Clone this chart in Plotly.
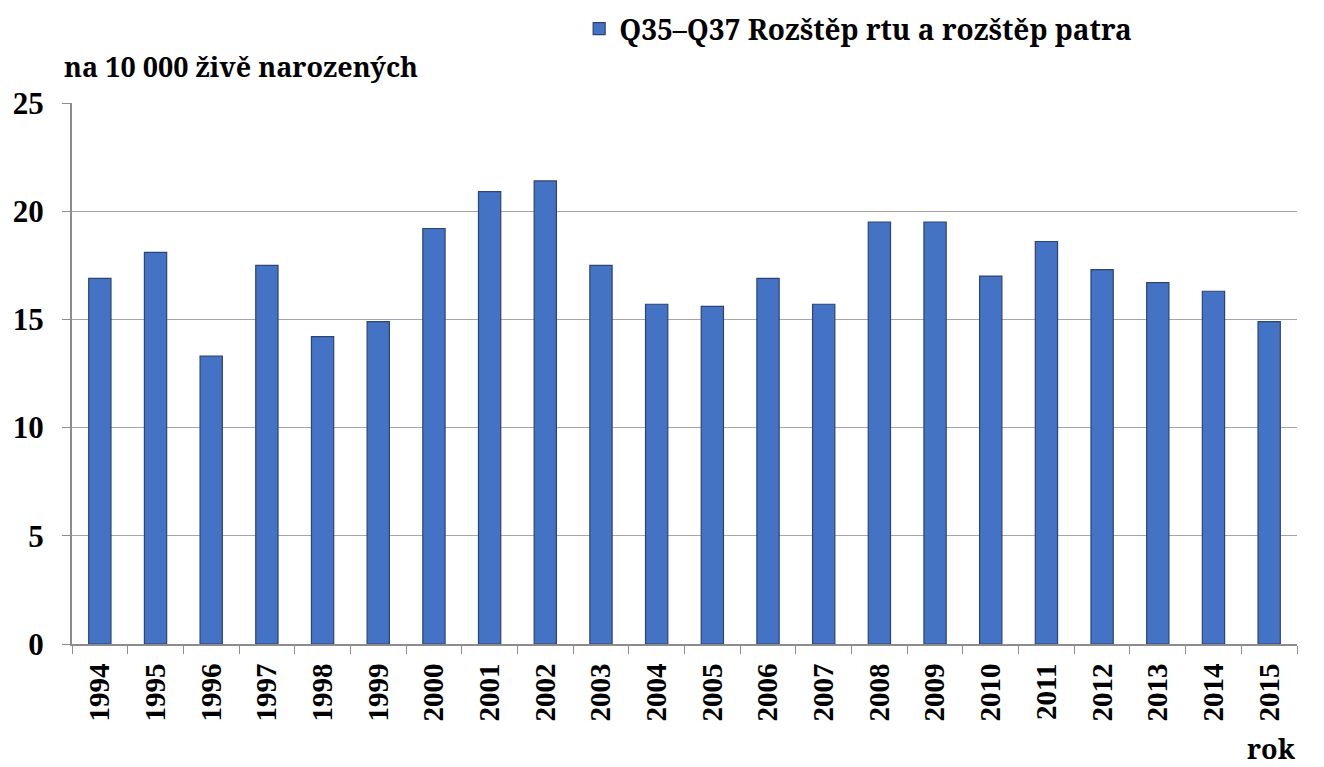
import plotly.graph_objects as go

# Data
roky = [str(r) for r in range(1994, 2016)]
hodnoty = [16.9, 18.1, 13.3, 17.5, 14.2, 14.9, 19.2, 20.9, 21.4, 17.5, 15.7,
           15.6, 16.9, 15.7, 19.5, 19.5, 17.0, 18.6, 17.3, 16.7, 16.3, 14.9]
y_ticks = [0, 5, 10, 15, 20, 25]

# cisla v Liberation Serif, texty s pismeny v Noto Serif
FONT_NUM = "Liberation Serif"
FONT_TXT = "Noto Serif"

fig = go.Figure()
fig.add_trace(
    go.Bar(
        x=roky,
        y=hodnoty,
        name="Q35–Q37 Rozštěp rtu a rozštěp patra",
        marker=dict(color="#4472C4", line=dict(color="#2E4470", width=1.2)),
    )
)

fig.update_layout(
    width=1324,
    height=767,
    margin=dict(l=64, r=35, t=95, b=131, autoexpand=False),
    plot_bgcolor="white",
    paper_bgcolor="white",
    bargap=0.6,
    font=dict(family=FONT_TXT, color="black", weight="bold"),
    showlegend=True,
    legend=dict(
        orientation="h",
        x=0.414, xanchor="left",
        y=1.137, yanchor="middle",
        font=dict(size=28, family=FONT_TXT, color="black", weight="bold"),
        itemwidth=30,
    ),
)

fig.update_xaxes(
    type="category",
    tickangle=-90,
    tickfont=dict(size=29, family=FONT_NUM, color="black", weight="bold"),
    ticklabelstandoff=6,
    showline=True,
    linecolor="#8C8C8C",
    linewidth=2,
    ticks="outside",
    tickson="boundaries",
    ticklen=8,
    tickcolor="#8C8C8C",
    showgrid=False,
)
fig.update_yaxes(
    range=[0, 25],
    tickvals=y_ticks,
    tickfont=dict(size=31, family=FONT_NUM, color="black", weight="bold"),
    ticklabelstandoff=12,
    showline=True,
    linecolor="#8C8C8C",
    linewidth=2,
    ticks="outside",
    ticklen=8,
    tickcolor="#8C8C8C",
    showgrid=True,
    gridcolor="#A6A6A6",
    gridwidth=1,
    zeroline=False,
)

# Popisky os
fig.add_annotation(
    text="na 10 000 živě narozených",
    xref="paper", yref="paper",
    x=-0.008, y=1.068, xanchor="left", yanchor="middle",
    showarrow=False,
    font=dict(size=27, family=FONT_TXT, color="black", weight="bold"),
)
fig.add_annotation(
    text="rok",
    xref="paper", yref="paper",
    x=1.0, y=-0.193, xanchor="right", yanchor="middle",
    showarrow=False,
    borderpad=0,
    font=dict(size=27, family=FONT_TXT, color="black", weight="bold"),
)

fig.write_html("out.html")
